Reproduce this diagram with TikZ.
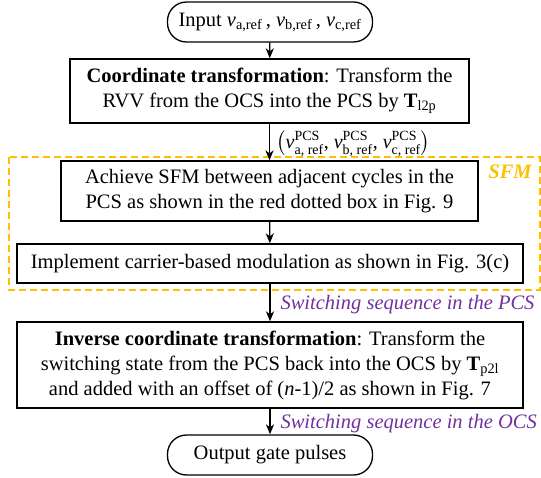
\documentclass[tikz,border=0pt]{standalone}
\usepackage{amsmath}
\usepackage{fontspec}
\setmainfont{Liberation Serif}
\usetikzlibrary{arrows.meta, calc, positioning}
\definecolor{sfmgold}{RGB}{255,192,0}
\definecolor{seqpurple}{RGB}{112,48,160}

\begin{document}
\begin{tikzpicture}
[	x=1pt,y=-1pt,
	font=\fontsize{20.5}{25}\selectfont,
	box/.style={rectangle,draw,line width=1.3,align=center,inner sep=0},
	term/.style={rectangle,rounded corners=19,draw,line width=1.3,minimum height=40,minimum width=205,inner sep=0},
	seq/.style={anchor=west,text=seqpurple,font=\fontsize{20.5}{25}\selectfont\itshape},
	>={Stealth[length=10,width=8,inset=3]}
]
\useasboundingbox (0,0) rectangle (541,478);

\node[term] (in) at (270,22) {Input $\textit{v}_{\text{a,ref}}$\,, $\textit{v}_{\text{b,ref}}$\,, $\textit{v}_{\text{c,ref}}$};

\node[box,minimum width=399,minimum height=64] (ct) at (269.5,91) {\textbf{Coordinate transformation}: Transform the\\RVV from the OCS into the PCS by $\textbf{T}_{\text{l2p}}$};

\node[anchor=west,inner sep=0,font=\fontsize{20}{22}\selectfont] (vpcs) at (276,143.5) {$\left(\textit{v}^{\text{PCS}}_{\text{a, ref}}\text{, }\textit{v}^{\text{PCS}}_{\text{b, ref}}\text{, }\textit{v}^{\text{PCS}}_{\text{c, ref}}\right)$};

\draw[sfmgold,line width=1.3,dash pattern=on 7 off 4] (9,157) rectangle (540,290);
\node[text=sfmgold,font=\fontsize{20.5}{25}\selectfont\bfseries\itshape] (sfm) at (510,172) {SFM};

\node[box,minimum width=417,minimum height=60] (sfmbox) at (269.5,191) {Achieve SFM between adjacent cycles in the\\PCS as shown in the red dotted box in Fig. 9};

\node[box,minimum width=506,minimum height=39] (cbm) at (270,263.5) {Implement carrier-based modulation as shown in Fig. 3(c)};

\node[box,minimum width=506,minimum height=86] (ict) at (270,365) {\textbf{Inverse coordinate transformation}: Transform the\\switching state from the PCS back into the OCS by $\textbf{T}_{\text{p2l}}$\\and added with an offset of (\textit{n}-1)/2 as shown in Fig. 7};

\node[term] (out) at (270,455) {Output gate pulses};

\node[seq] (seqp) at (277,305) {Switching sequence in the PCS};
\node[seq] (seqo) at (277,424) {Switching sequence in the OCS};

\draw[line width=1.3,->] (in)		-- 	(ct);
\draw[line width=1.3,->] (ct)		-- 	(sfmbox);
\draw[line width=1.3,->] (sfmbox)	-- 	(cbm);
\draw[line width=1.3,->] (cbm)		-- 	(ict);
\draw[line width=1.3,->] (ict)		-- 	(out);

\end{tikzpicture}
\end{document}
